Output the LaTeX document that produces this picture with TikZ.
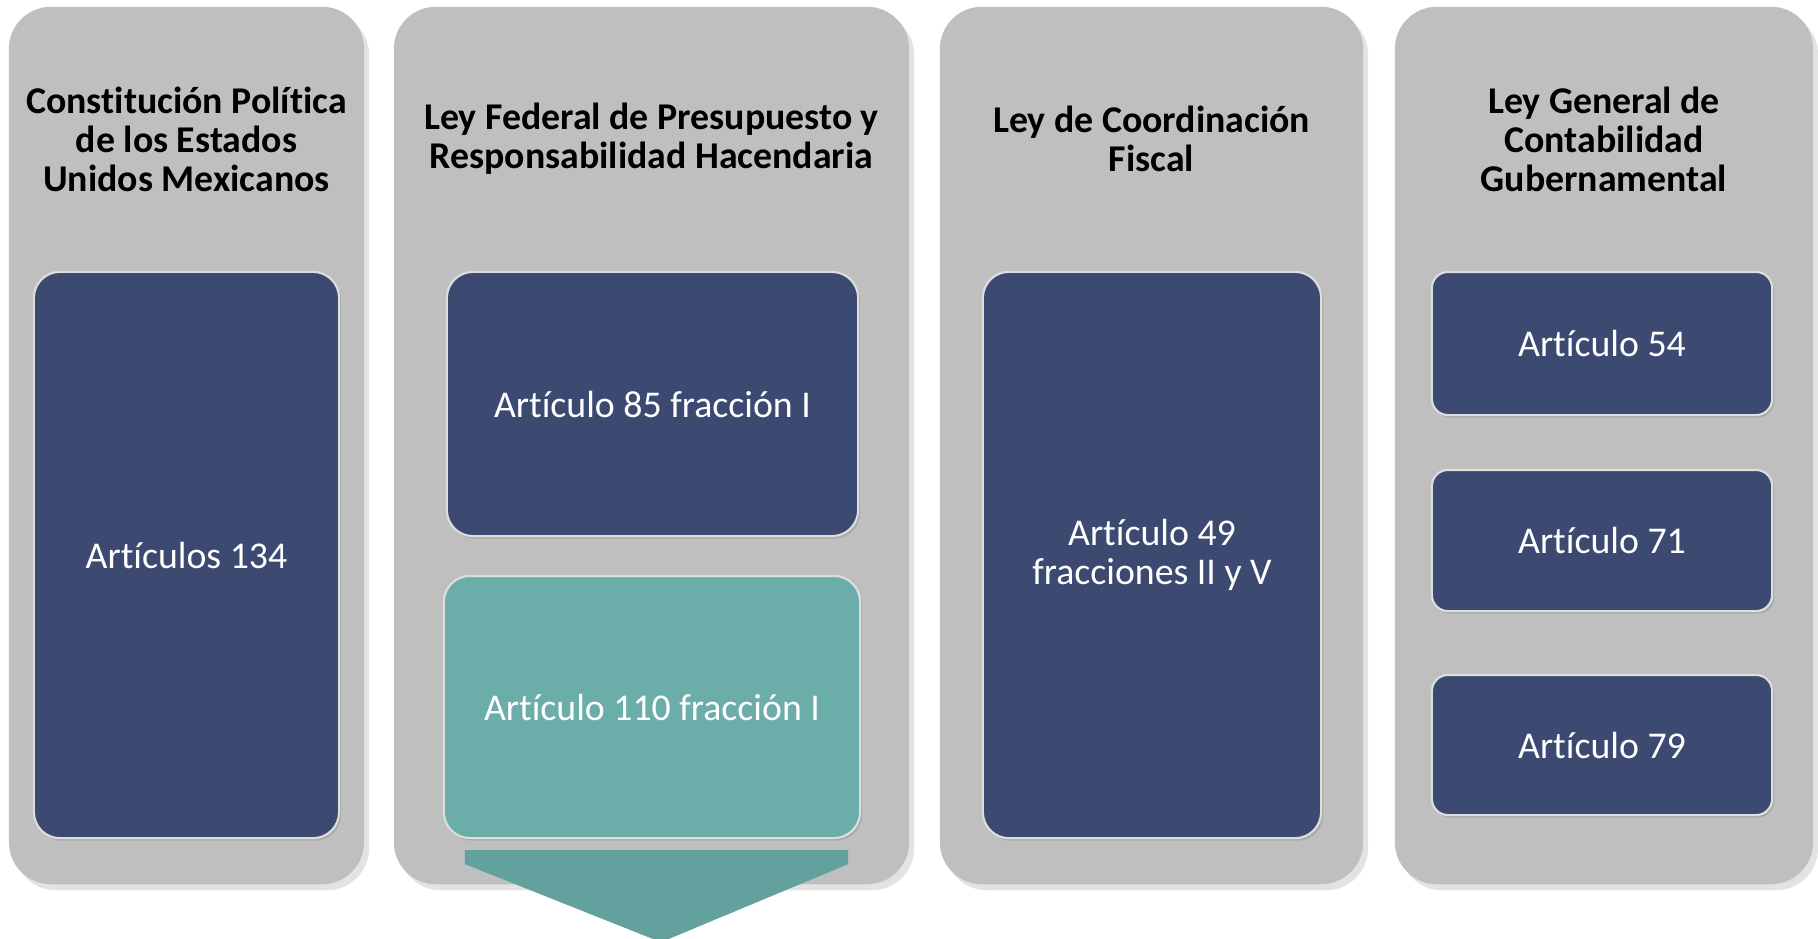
\documentclass[tikz,border=0pt]{standalone}
\usepackage{fontspec}
\setmainfont{Carlito}[Ligatures=NoCommon]
\usetikzlibrary{shadows}

\definecolor{panelgray}{RGB}{191,191,191}
\definecolor{artnavy}{RGB}{60,74,114}
\definecolor{artteal}{RGB}{106,173,169}
\definecolor{arrowteal}{RGB}{98,161,157}
\definecolor{rimgray}{RGB}{222,222,222}

\begin{document}
\begin{tikzpicture}%
	[x=0.01cm, y=-0.01cm,
	panel/.style={rectangle, rounded corners=0.42cm, fill=panelgray, inner sep=0pt,
		drop shadow={shadow xshift=0.05cm, shadow yshift=-0.06cm, opacity=0.22}},
	title/.style={align=center, inner sep=0pt, text=black,
		font=\fontsize{10.75}{11.1}\selectfont\bfseries},
	article/.style={rectangle, rounded corners=0.26cm, fill=artnavy, draw=rimgray,
		line width=0.6pt, inner sep=0pt, align=center, text=white,
		font=\fontsize{10.75}{11.1}\selectfont,
		drop shadow={shadow xshift=0.02cm, shadow yshift=-0.025cm, opacity=0.35}},
	smallarticle/.style={article, rounded corners=0.16cm},
	current/.style={article, fill=artteal},
	downarrow/.style={fill=arrowteal}]
%
\useasboundingbox (0,0) rectangle (1818,938);
%%
%% Grey columns
%%
\node[panel, minimum width=3.55cm, minimum height=8.77cm] (cpeum) at (186.5,445.5) {};
\node[panel, minimum width=5.15cm, minimum height=8.77cm] (lfprh) at (651.5,445.5) {};
\node[panel, minimum width=4.23cm, minimum height=8.77cm] (lcf) at (1151.5,445.5) {};
\node[panel, minimum width=4.18cm, minimum height=8.77cm] (lgcg) at (1604,445.5) {};
%%
%% Titles of the columns
%%
\node[title] (cpeum title) at (186.5,139) {Constitución Política\\de los Estados\\Unidos Mexicanos};
\node[title] (lfprh title) at (651.5,139) {Ley Federal de Presupuesto y\\Responsabilidad Hacendaria};
\node[title] (lcf title) at (1151.5,139) {Ley de Coordinación\\Fiscal};
\node[title] (lgcg title) at (1604,139) {Ley General de\\Contabilidad\\Gubernamental};
%%
%% Articles
%%
\node[article, minimum width=3.05cm, minimum height=5.66cm] (art134) at (186.5,555) {Artículos 134};
\node[article, minimum width=4.11cm, minimum height=2.64cm] (art85) at (652.5,404) {Artículo 85 fracción I};
\node[current, minimum width=4.16cm, minimum height=2.62cm] (art110) at (652,707) {Artículo 110 fracción I};
\node[article, minimum width=3.38cm, minimum height=5.66cm] (art49) at (1152,555) {Artículo 49\\fracciones II y V};
\node[smallarticle, minimum width=3.40cm, minimum height=1.43cm] (art54) at (1602,343.5) {Artículo 54};
\node[smallarticle, minimum width=3.40cm, minimum height=1.41cm] (art71) at (1602,540.5) {Artículo 71};
\node[smallarticle, minimum width=3.40cm, minimum height=1.40cm] (art79) at (1602,745) {Artículo 79};
%%
%% Arrow below the highlighted article
%%
\coordinate (arrow top) at ([yshift=-0.11cm]art110.south);
\fill[downarrow] ([xshift=-1.87cm]arrow top) -- ([xshift=1.96cm]arrow top)
	-- ([xshift=1.96cm, yshift=-0.14cm]arrow top) -- ([xshift=0.09cm, yshift=-0.92cm]arrow top)
	-- ([xshift=-1.87cm, yshift=-0.14cm]arrow top) -- cycle;
%%
\end{tikzpicture}
\end{document}
